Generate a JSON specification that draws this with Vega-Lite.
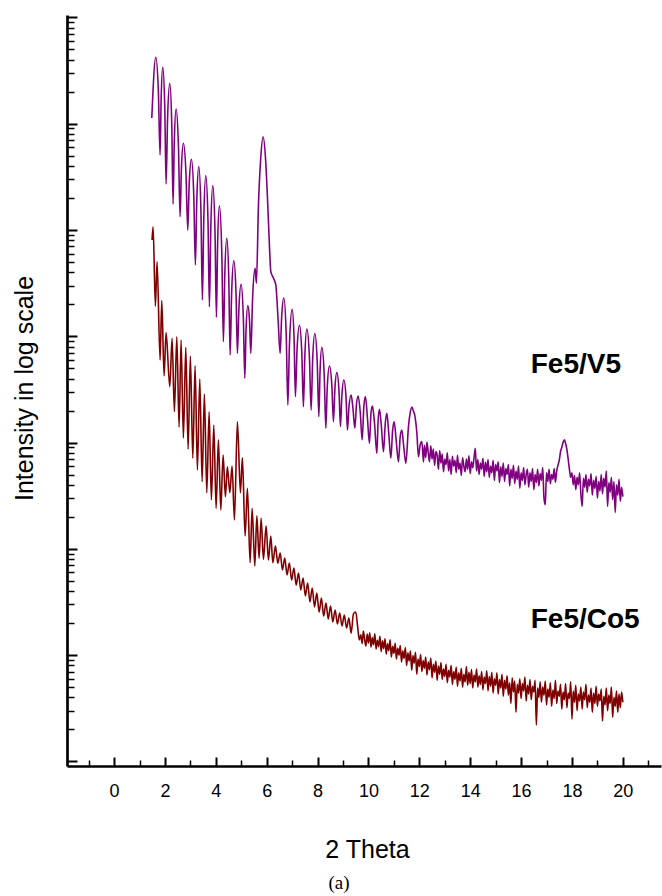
{
"$schema":"https://vega.github.io/schema/vega-lite/v6.json",
"width":594,"height":751,
"autosize":"none",
"padding":{"left":67,"top":15,"right":1,"bottom":130},
"config":{"view":{"stroke":null},"axis":{"grid":false}},
"title":{"text":"(a)","orient":"bottom","frame":"group","anchor":"middle","font":"Liberation Serif","fontSize":19,"fontWeight":"normal","color":"black","offset":12,"dx":-25},
"datasets":{
"fe5v5":[
{"theta":1.483,"intensity":1130000},{"theta":1.640,"intensity":4210000},{"theta":1.742,"intensity":2000000},{"theta":1.809,"intensity":507000},{"theta":1.852,"intensity":1740000},{"theta":1.915,"intensity":3390000},{"theta":1.994,"intensity":1400000},{"theta":2.045,"intensity":270000},{"theta":2.104,"intensity":1120000},{"theta":2.190,"intensity":2390000},{"theta":2.269,"intensity":959000},{"theta":2.320,"intensity":175000},{"theta":2.367,"intensity":667000},{"theta":2.438,"intensity":1370000},{"theta":2.532,"intensity":605000},{"theta":2.595,"intensity":133000},{"theta":2.647,"intensity":374000},{"theta":2.725,"intensity":653000},{"theta":2.827,"intensity":338000},{"theta":2.898,"intensity":99800},{"theta":2.953,"intensity":270000},{"theta":3.040,"intensity":461000},{"theta":3.134,"intensity":207000},{"theta":3.197,"intensity":46800},{"theta":3.252,"intensity":187000},{"theta":3.331,"intensity":394000},{"theta":3.417,"intensity":143000},{"theta":3.472,"intensity":21900},{"theta":3.527,"intensity":126000},{"theta":3.606,"intensity":324000},{"theta":3.693,"intensity":120000},{"theta":3.748,"intensity":18900},{"theta":3.803,"intensity":104000},{"theta":3.881,"intensity":261000},{"theta":3.968,"intensity":96200},{"theta":4.023,"intensity":15100},{"theta":4.070,"intensity":72600},{"theta":4.141,"intensity":169000},{"theta":4.235,"intensity":60300},{"theta":4.298,"intensity":8870},{"theta":4.353,"intensity":38000},{"theta":4.432,"intensity":83400},{"theta":4.510,"intensity":34400},{"theta":4.562,"intensity":6650},{"theta":4.621,"intensity":25100},{"theta":4.707,"intensity":51300},{"theta":4.794,"intensity":25400},{"theta":4.849,"intensity":6900},{"theta":4.908,"intensity":18200},{"theta":4.994,"intensity":30800},{"theta":5.081,"intensity":15100},{"theta":5.140,"intensity":4020},{"theta":5.187,"intensity":11200},{"theta":5.258,"intensity":19400},{"theta":5.328,"intensity":13500},{"theta":5.376,"intensity":6900},{"theta":5.446,"intensity":22900},{"theta":5.545,"intensity":43500},{"theta":5.596,"intensity":31500},{"theta":5.675,"intensity":168000},{"theta":5.761,"intensity":455000},{"theta":5.859,"intensity":753000},{"theta":5.958,"intensity":455000},{"theta":6.044,"intensity":168000},{"theta":6.115,"intensity":64700},{"theta":6.162,"intensity":40500},{"theta":6.264,"intensity":35300},{"theta":6.359,"intensity":30300},{"theta":6.449,"intensity":14200},{"theta":6.528,"intensity":6900},{"theta":6.587,"intensity":15000},{"theta":6.673,"intensity":22900},{"theta":6.768,"intensity":10200},{"theta":6.831,"intensity":2250},{"theta":6.897,"intensity":8670},{"theta":7.000,"intensity":17900},{"theta":7.078,"intensity":9230},{"theta":7.129,"intensity":2700},{"theta":7.192,"intensity":7400},{"theta":7.287,"intensity":12700},{"theta":7.381,"intensity":6860},{"theta":7.444,"intensity":2170},{"theta":7.499,"intensity":6490},{"theta":7.578,"intensity":11700},{"theta":7.680,"intensity":6320},{"theta":7.747,"intensity":2020},{"theta":7.806,"intensity":5960},{"theta":7.892,"intensity":10600},{"theta":7.987,"intensity":5660},{"theta":8.050,"intensity":1750},{"theta":8.097,"intensity":4650},{"theta":8.168,"intensity":7870},{"theta":8.262,"intensity":4260},{"theta":8.325,"intensity":1360},{"theta":8.380,"intensity":3270},{"theta":8.466,"intensity":5250},{"theta":8.561,"intensity":3440},{"theta":8.624,"intensity":1570},{"theta":8.679,"intensity":3130},{"theta":8.757,"intensity":4540},{"theta":8.844,"intensity":3010},{"theta":8.899,"intensity":1410},{"theta":8.954,"intensity":2720},{"theta":9.033,"intensity":3870},{"theta":9.119,"intensity":2650},{"theta":9.174,"intensity":1310},{"theta":9.233,"intensity":2150},{"theta":9.320,"intensity":2800},{"theta":9.39,"intensity":2100},{"theta":9.465,"intensity":1360},{"theta":9.53,"intensity":2300},{"theta":9.595,"intensity":2740},{"theta":9.68,"intensity":1900},{"theta":9.752,"intensity":1060},{"theta":9.82,"intensity":2200},{"theta":9.882,"intensity":2700},{"theta":9.96,"intensity":1700},{"theta":10.039,"intensity":982},{"theta":10.10,"intensity":1900},{"theta":10.157,"intensity":2200},{"theta":10.24,"intensity":1500},{"theta":10.330,"intensity":791},{"theta":10.38,"intensity":1600},{"theta":10.433,"intensity":2050},{"theta":10.51,"intensity":1400},{"theta":10.590,"intensity":819},{"theta":10.66,"intensity":1500},{"theta":10.724,"intensity":1880},{"theta":10.80,"intensity":1200},{"theta":10.881,"intensity":710},{"theta":10.95,"intensity":1300},{"theta":11.011,"intensity":1570},{"theta":11.09,"intensity":1050},{"theta":11.180,"intensity":659},{"theta":11.25,"intensity":1150},{"theta":11.313,"intensity":1310},{"theta":11.39,"intensity":900},{"theta":11.471,"intensity":637},{"theta":11.573,"intensity":1410},{"theta":11.64,"intensity":1900},{"theta":11.707,"intensity":2160},{"theta":11.76,"intensity":2000},{"theta":11.817,"intensity":1820},{"theta":11.903,"intensity":1230},{"theta":11.966,"intensity":735},{"theta":12.033,"intensity":947},{"theta":12.100,"intensity":1020},{"theta":12.163,"intensity":656},
{"theta":12.20,"intensity":940},{"theta":12.25,"intensity":720},{"theta":12.30,"intensity":1010},{"theta":12.35,"intensity":800},{"theta":12.40,"intensity":660},{"theta":12.45,"intensity":930},{"theta":12.50,"intensity":700},{"theta":12.55,"intensity":870},{"theta":12.60,"intensity":610},{"theta":12.65,"intensity":820},{"theta":12.70,"intensity":760},{"theta":12.75,"intensity":560},{"theta":12.80,"intensity":840},{"theta":12.85,"intensity":640},{"theta":12.90,"intensity":780},{"theta":12.95,"intensity":530},{"theta":13.00,"intensity":700},{"theta":13.05,"intensity":620},{"theta":13.10,"intensity":800},{"theta":13.15,"intensity":540},{"theta":13.20,"intensity":690},{"theta":13.25,"intensity":500},{"theta":13.30,"intensity":740},{"theta":13.35,"intensity":600},{"theta":13.40,"intensity":680},{"theta":13.45,"intensity":520},{"theta":13.50,"intensity":760},{"theta":13.55,"intensity":560},{"theta":13.60,"intensity":640},{"theta":13.65,"intensity":490},{"theta":13.70,"intensity":720},{"theta":13.75,"intensity":600},{"theta":13.80,"intensity":530},{"theta":13.85,"intensity":700},{"theta":13.90,"intensity":560},{"theta":13.95,"intensity":750},{"theta":14.00,"intensity":510},{"theta":14.05,"intensity":660},{"theta":14.10,"intensity":580},{"theta":14.15,"intensity":720},{"theta":14.20,"intensity":880},{"theta":14.25,"intensity":540},{"theta":14.30,"intensity":690},{"theta":14.35,"intensity":500},{"theta":14.40,"intensity":640},{"theta":14.45,"intensity":560},{"theta":14.50,"intensity":710},{"theta":14.55,"intensity":480},{"theta":14.60,"intensity":650},{"theta":14.65,"intensity":530},{"theta":14.70,"intensity":690},{"theta":14.75,"intensity":470},{"theta":14.80,"intensity":600},{"theta":14.85,"intensity":520},{"theta":14.90,"intensity":680},{"theta":14.95,"intensity":440},{"theta":15.00,"intensity":620},{"theta":15.05,"intensity":540},{"theta":15.10,"intensity":660},{"theta":15.15,"intensity":420},{"theta":15.20,"intensity":590},{"theta":15.25,"intensity":480},{"theta":15.30,"intensity":640},{"theta":15.35,"intensity":430},{"theta":15.40,"intensity":570},{"theta":15.45,"intensity":500},{"theta":15.50,"intensity":620},{"theta":15.55,"intensity":390},{"theta":15.60,"intensity":560},{"theta":15.65,"intensity":460},{"theta":15.70,"intensity":610},{"theta":15.75,"intensity":410},{"theta":15.80,"intensity":540},{"theta":15.85,"intensity":450},{"theta":15.90,"intensity":600},{"theta":15.95,"intensity":370},{"theta":16.00,"intensity":520},{"theta":16.05,"intensity":440},{"theta":16.10,"intensity":580},{"theta":16.15,"intensity":400},{"theta":16.20,"intensity":500},{"theta":16.25,"intensity":560},{"theta":16.30,"intensity":380},{"theta":16.35,"intensity":520},{"theta":16.40,"intensity":430},{"theta":16.45,"intensity":570},{"theta":16.50,"intensity":360},{"theta":16.55,"intensity":500},{"theta":16.60,"intensity":420},{"theta":16.65,"intensity":560},{"theta":16.70,"intensity":390},{"theta":16.75,"intensity":510},{"theta":16.80,"intensity":440},{"theta":16.85,"intensity":580},{"theta":16.90,"intensity":300},{"theta":16.95,"intensity":260},{"theta":17.00,"intensity":520},{"theta":17.05,"intensity":430},{"theta":17.10,"intensity":560},{"theta":17.15,"intensity":410},{"theta":17.20,"intensity":500},{"theta":17.25,"intensity":450},{"theta":17.30,"intensity":570},{"theta":17.35,"intensity":420},{"theta":17.40,"intensity":540},{"theta":17.45,"intensity":610},{"theta":17.50,"intensity":680},{"theta":17.55,"intensity":820},{"theta":17.60,"intensity":900},{"theta":17.65,"intensity":1000},{"theta":17.70,"intensity":1060},{"theta":17.75,"intensity":980},{"theta":17.80,"intensity":860},{"theta":17.85,"intensity":700},{"theta":17.90,"intensity":560},{"theta":17.95,"intensity":470},{"theta":18.00,"intensity":520},{"theta":18.05,"intensity":400},{"theta":18.10,"intensity":490},{"theta":18.15,"intensity":360},{"theta":18.20,"intensity":470},{"theta":18.25,"intensity":400},{"theta":18.30,"intensity":520},{"theta":18.35,"intensity":330},{"theta":18.40,"intensity":250},{"theta":18.45,"intensity":460},{"theta":18.50,"intensity":380},{"theta":18.55,"intensity":500},{"theta":18.60,"intensity":340},{"theta":18.65,"intensity":450},{"theta":18.70,"intensity":390},{"theta":18.75,"intensity":510},{"theta":18.80,"intensity":320},{"theta":18.85,"intensity":440},{"theta":18.90,"intensity":370},{"theta":18.95,"intensity":480},{"theta":19.00,"intensity":300},{"theta":19.05,"intensity":430},{"theta":19.10,"intensity":350},{"theta":19.15,"intensity":500},{"theta":19.20,"intensity":330},{"theta":19.25,"intensity":460},{"theta":19.30,"intensity":380},{"theta":19.35,"intensity":540},{"theta":19.40,"intensity":250},{"theta":19.45,"intensity":420},{"theta":19.50,"intensity":340},{"theta":19.55,"intensity":470},{"theta":19.60,"intensity":290},{"theta":19.65,"intensity":430},{"theta":19.70,"intensity":220},{"theta":19.75,"intensity":400},{"theta":19.80,"intensity":320},{"theta":19.85,"intensity":450},{"theta":19.90,"intensity":280},{"theta":19.95,"intensity":380},{"theta":20.00,"intensity":310}
],
"fe5co5":[
{"theta":1.494,"intensity":80400},{"theta":1.534,"intensity":107000},{"theta":1.624,"intensity":19200},{"theta":1.691,"intensity":50200},{"theta":1.809,"intensity":5970},{"theta":1.876,"intensity":21600},{"theta":1.966,"intensity":4230},{"theta":2.045,"intensity":10800},{"theta":2.190,"intensity":3350},{"theta":2.281,"intensity":9550},{"theta":2.371,"intensity":1950},{"theta":2.466,"intensity":9890},{"theta":2.556,"intensity":1390},{"theta":2.635,"intensity":9200},{"theta":2.725,"intensity":1100},{"theta":2.820,"intensity":7870},{"theta":2.910,"intensity":863},{"theta":3.000,"intensity":6520},{"theta":3.095,"intensity":710},{"theta":3.185,"intensity":5280},{"theta":3.276,"intensity":551},{"theta":3.370,"intensity":3960},{"theta":3.461,"intensity":428},{"theta":3.551,"intensity":2860},{"theta":3.645,"intensity":337},{"theta":3.736,"intensity":1950},{"theta":3.826,"intensity":288},{"theta":3.921,"intensity":1460},{"theta":4.011,"intensity":240},{"theta":4.101,"intensity":1060},{"theta":4.196,"intensity":232},{"theta":4.286,"intensity":763},{"theta":4.377,"intensity":309},{"theta":4.455,"intensity":592},{"theta":4.550,"intensity":337},{"theta":4.640,"intensity":601},{"theta":4.731,"intensity":187},{"theta":4.849,"intensity":1570},{"theta":4.967,"intensity":337},{"theta":5.045,"intensity":719},{"theta":5.151,"intensity":132},{"theta":5.242,"intensity":371},{"theta":5.348,"intensity":74.0},{"theta":5.427,"intensity":240},{"theta":5.533,"intensity":68.9},{"theta":5.612,"intensity":204},{"theta":5.702,"intensity":81.5},{"theta":5.781,"intensity":194},{"theta":5.871,"intensity":79.7},{"theta":5.977,"intensity":164},{"theta":6.068,"intensity":78.5},{"theta":6.162,"intensity":132},{"theta":6.241,"intensity":74.0},{"theta":6.343,"intensity":106},{"theta":6.437,"intensity":73.1},
{"theta":6.53,"intensity":91.3},{"theta":6.62,"intensity":63.2},{"theta":6.71,"intensity":81.9},{"theta":6.80,"intensity":56.7},{"theta":6.89,"intensity":73.5},{"theta":6.98,"intensity":50.8},{"theta":7.07,"intensity":65.9},{"theta":7.16,"intensity":45.6},{"theta":7.25,"intensity":59.2},{"theta":7.34,"intensity":41.0},{"theta":7.43,"intensity":53.1},{"theta":7.52,"intensity":36.0},{"theta":7.61,"intensity":47.7},{"theta":7.70,"intensity":31.6},{"theta":7.79,"intensity":42.8},{"theta":7.88,"intensity":28.4},{"theta":7.97,"intensity":38.4},{"theta":8.06,"intensity":25.4},{"theta":8.15,"intensity":34.4},{"theta":8.24,"intensity":23.3},{"theta":8.33,"intensity":30.9},{"theta":8.42,"intensity":21.9},{"theta":8.51,"intensity":29.0},{"theta":8.60,"intensity":20.5},{"theta":8.69,"intensity":26.6},{"theta":8.78,"intensity":19.6},{"theta":8.87,"intensity":24.9},{"theta":8.96,"intensity":18.8},{"theta":9.05,"intensity":23.8},{"theta":9.14,"intensity":18.0},{"theta":9.23,"intensity":22.3},{"theta":9.32,"intensity":16.1},{"theta":9.41,"intensity":24.4},{"theta":9.50,"intensity":25.4},{"theta":9.58,"intensity":18.0},{"theta":9.64,"intensity":13.9},
{"theta":9.70,"intensity":15.5},{"theta":9.75,"intensity":12.8},{"theta":9.80,"intensity":16.8},{"theta":9.85,"intensity":14.0},{"theta":9.90,"intensity":12.2},{"theta":9.95,"intensity":15.8},{"theta":10.00,"intensity":13.0},{"theta":10.05,"intensity":16.2},{"theta":10.10,"intensity":11.9},{"theta":10.15,"intensity":14.6},{"theta":10.20,"intensity":12.5},{"theta":10.25,"intensity":15.9},{"theta":10.30,"intensity":11.4},{"theta":10.35,"intensity":13.8},{"theta":10.40,"intensity":12.0},{"theta":10.45,"intensity":15.0},{"theta":10.50,"intensity":10.8},{"theta":10.55,"intensity":13.6},{"theta":10.60,"intensity":11.5},{"theta":10.65,"intensity":14.2},{"theta":10.70,"intensity":10.2},{"theta":10.75,"intensity":12.8},{"theta":10.80,"intensity":11.0},{"theta":10.85,"intensity":13.9},{"theta":10.90,"intensity":9.6},{"theta":10.95,"intensity":12.1},{"theta":11.00,"intensity":10.4},{"theta":11.05,"intensity":12.9},{"theta":11.10,"intensity":9.2},{"theta":11.15,"intensity":11.6},{"theta":11.20,"intensity":10.0},{"theta":11.25,"intensity":12.3},{"theta":11.30,"intensity":8.6},{"theta":11.35,"intensity":11.0},{"theta":11.40,"intensity":9.3},{"theta":11.45,"intensity":11.8},{"theta":11.50,"intensity":8.0},{"theta":11.55,"intensity":10.5},{"theta":11.60,"intensity":8.8},{"theta":11.65,"intensity":10.9},{"theta":11.70,"intensity":7.2},{"theta":11.75,"intensity":9.9},{"theta":11.80,"intensity":8.4},{"theta":11.85,"intensity":10.6},{"theta":11.90,"intensity":6.6},{"theta":11.95,"intensity":9.2},{"theta":12.00,"intensity":7.8},{"theta":12.05,"intensity":10.1},{"theta":12.10,"intensity":7.0},{"theta":12.15,"intensity":8.9},{"theta":12.20,"intensity":7.5},{"theta":12.25,"intensity":9.6},{"theta":12.30,"intensity":6.5},{"theta":12.35,"intensity":8.6},{"theta":12.40,"intensity":7.3},{"theta":12.45,"intensity":9.4},{"theta":12.50,"intensity":6.1},{"theta":12.55,"intensity":8.2},{"theta":12.60,"intensity":6.9},{"theta":12.65,"intensity":8.8},{"theta":12.70,"intensity":5.8},{"theta":12.75,"intensity":7.9},{"theta":12.80,"intensity":6.6},{"theta":12.85,"intensity":8.5},{"theta":12.90,"intensity":5.9},{"theta":12.95,"intensity":7.4},{"theta":13.00,"intensity":6.3},{"theta":13.05,"intensity":8.2},{"theta":13.10,"intensity":5.5},{"theta":13.15,"intensity":7.2},{"theta":13.20,"intensity":6.2},{"theta":13.25,"intensity":8.0},{"theta":13.30,"intensity":5.3},{"theta":13.35,"intensity":7.0},{"theta":13.40,"intensity":5.9},{"theta":13.45,"intensity":7.7},{"theta":13.50,"intensity":5.1},{"theta":13.55,"intensity":6.8},{"theta":13.60,"intensity":5.7},{"theta":13.65,"intensity":7.5},{"theta":13.70,"intensity":5.0},{"theta":13.75,"intensity":6.6},{"theta":13.80,"intensity":5.6},{"theta":13.85,"intensity":7.8},{"theta":13.90,"intensity":5.2},{"theta":13.95,"intensity":6.9},{"theta":14.00,"intensity":5.4},{"theta":14.05,"intensity":7.3},{"theta":14.10,"intensity":4.9},{"theta":14.15,"intensity":6.5},{"theta":14.20,"intensity":5.6},{"theta":14.25,"intensity":7.4},{"theta":14.30,"intensity":5.0},{"theta":14.35,"intensity":6.4},{"theta":14.40,"intensity":5.3},{"theta":14.45,"intensity":7.0},{"theta":14.50,"intensity":4.7},{"theta":14.55,"intensity":6.2},{"theta":14.60,"intensity":5.4},{"theta":14.65,"intensity":7.1},{"theta":14.70,"intensity":4.6},{"theta":14.75,"intensity":6.3},{"theta":14.80,"intensity":5.1},{"theta":14.85,"intensity":6.9},{"theta":14.90,"intensity":4.4},{"theta":14.95,"intensity":6.0},{"theta":15.00,"intensity":5.2},{"theta":15.05,"intensity":6.8},{"theta":15.10,"intensity":4.3},{"theta":15.15,"intensity":5.9},{"theta":15.20,"intensity":4.9},{"theta":15.25,"intensity":6.6},{"theta":15.30,"intensity":4.1},{"theta":15.35,"intensity":5.8},{"theta":15.40,"intensity":4.8},{"theta":15.45,"intensity":6.4},{"theta":15.50,"intensity":4.2},{"theta":15.55,"intensity":5.5},{"theta":15.60,"intensity":3.5},{"theta":15.65,"intensity":6.1},{"theta":15.70,"intensity":4.5},{"theta":15.75,"intensity":5.7},{"theta":15.80,"intensity":2.9},{"theta":15.85,"intensity":5.3},{"theta":15.90,"intensity":4.4},{"theta":15.95,"intensity":6.0},{"theta":16.00,"intensity":3.9},{"theta":16.05,"intensity":5.4},{"theta":16.10,"intensity":4.6},{"theta":16.15,"intensity":6.2},{"theta":16.20,"intensity":3.7},{"theta":16.25,"intensity":5.2},{"theta":16.30,"intensity":4.3},{"theta":16.35,"intensity":5.9},{"theta":16.40,"intensity":3.8},{"theta":16.45,"intensity":5.1},{"theta":16.50,"intensity":4.5},{"theta":16.55,"intensity":5.8},{"theta":16.60,"intensity":2.2},{"theta":16.65,"intensity":4.9},{"theta":16.70,"intensity":4.0},{"theta":16.75,"intensity":5.6},{"theta":16.80,"intensity":3.6},{"theta":16.85,"intensity":5.0},{"theta":16.90,"intensity":4.2},{"theta":16.95,"intensity":5.7},{"theta":17.00,"intensity":3.4},{"theta":17.05,"intensity":4.8},{"theta":17.10,"intensity":4.0},{"theta":17.15,"intensity":5.5},{"theta":17.20,"intensity":3.3},{"theta":17.25,"intensity":4.7},{"theta":17.30,"intensity":3.9},{"theta":17.35,"intensity":5.8},{"theta":17.40,"intensity":3.5},{"theta":17.45,"intensity":4.6},{"theta":17.50,"intensity":4.1},{"theta":17.55,"intensity":5.3},{"theta":17.60,"intensity":3.1},{"theta":17.65,"intensity":4.5},{"theta":17.70,"intensity":3.8},{"theta":17.75,"intensity":5.4},{"theta":17.80,"intensity":3.2},{"theta":17.85,"intensity":4.4},{"theta":17.90,"intensity":3.9},{"theta":17.95,"intensity":5.6},{"theta":18.00,"intensity":2.5},{"theta":18.05,"intensity":4.6},{"theta":18.10,"intensity":3.6},{"theta":18.15,"intensity":5.2},{"theta":18.20,"intensity":3.0},{"theta":18.25,"intensity":4.3},{"theta":18.30,"intensity":3.7},{"theta":18.35,"intensity":5.0},{"theta":18.40,"intensity":3.1},{"theta":18.45,"intensity":4.5},{"theta":18.50,"intensity":3.8},{"theta":18.55,"intensity":5.3},{"theta":18.60,"intensity":3.2},{"theta":18.65,"intensity":4.2},{"theta":18.70,"intensity":3.6},{"theta":18.75,"intensity":4.9},{"theta":18.80,"intensity":2.9},{"theta":18.85,"intensity":4.4},{"theta":18.90,"intensity":3.5},{"theta":18.95,"intensity":5.1},{"theta":19.00,"intensity":3.3},{"theta":19.05,"intensity":4.3},{"theta":19.10,"intensity":3.7},{"theta":19.15,"intensity":4.8},{"theta":19.20,"intensity":2.4},{"theta":19.25,"intensity":4.1},{"theta":19.30,"intensity":3.4},{"theta":19.35,"intensity":4.9},{"theta":19.40,"intensity":3.0},{"theta":19.45,"intensity":4.2},{"theta":19.50,"intensity":3.5},{"theta":19.55,"intensity":5.0},{"theta":19.60,"intensity":2.6},{"theta":19.65,"intensity":4.0},{"theta":19.70,"intensity":3.3},{"theta":19.75,"intensity":4.6},{"theta":19.80,"intensity":2.9},{"theta":19.85,"intensity":4.3},{"theta":19.90,"intensity":3.2},{"theta":19.95,"intensity":4.5},{"theta":20.00,"intensity":3.6}
],
"labels":[
{"label":"Fe5/V5","theta":16.38,"intensity":4480},
{"label":"Fe5/Co5","theta":16.38,"intensity":17.8}
]
},
"layer":[
{"data":{"name":"fe5v5"},
 "mark":{"type":"line","color":"#800080","strokeWidth":1.6,"interpolate":"monotone"},
 "encoding":{
  "x":{"field":"theta","type":"quantitative","scale":{"domain":[-1.85,21.5],"nice":false,"zero":false},
   "axis":{"orient":"bottom","values":[0,2,4,6,8,10,12,14,16,18,20],"ticks":false,"domain":true,"domainColor":"black","domainWidth":2.5,"labels":true,"labelFont":"Liberation Sans","labelFontSize":18,"labelColor":"black","labelPadding":16,"labelFlush":false,"title":"2 Theta","titleFont":"Liberation Sans","titleFontSize":25,"titleFontWeight":"normal","titleColor":"black","titleX":300,"titleY":91,"titleBaseline":"alphabetic","titleAlign":"center","grid":false}},
  "y":{"field":"intensity","type":"quantitative","scale":{"type":"log","domain":[0.905,10520000],"nice":false},
   "axis":{"orient":"left","values":[1],"ticks":false,"labels":false,"domain":true,"domainColor":"black","domainWidth":2.7,"title":"Intensity in log scale","titleFont":"Liberation Sans","titleFontSize":25,"titleFontWeight":"normal","titleColor":"black","titleX":-35,"titleY":373,"titleAngle":270,"titleBaseline":"alphabetic","titleAlign":"center","grid":false}}
 }},
{"data":{"name":"fe5co5"},
 "mark":{"type":"line","color":"#800000","strokeWidth":1.6,"interpolate":"monotone"},
 "encoding":{
  "x":{"field":"theta","type":"quantitative","scale":{"domain":[-1.85,21.5],"nice":false,"zero":false},
   "axis":{"orient":"bottom","values":[0,2,4,6,8,10,12,14,16,18,20],"ticks":true,"tickSize":-9,"tickWidth":2,"tickColor":"black","labels":false,"domain":false,"title":null,"grid":false}},
  "y":{"field":"intensity","type":"quantitative","scale":{"type":"log","domain":[0.905,10520000],"nice":false},
   "axis":{"orient":"left","values":[1,10,100,1000,10000,100000,1000000,10000000],"ticks":true,"tickSize":-10,"tickWidth":2,"tickColor":"black","labels":false,"domain":false,"title":null,"grid":false}}
 }},
{"data":{"name":"labels"},
 "mark":{"type":"text","align":"left","baseline":"alphabetic","font":"Liberation Sans","fontSize":28,"fontWeight":"bold","color":"black"},
 "encoding":{
  "x":{"field":"theta","type":"quantitative","scale":{"domain":[-1.85,21.5],"nice":false,"zero":false},
   "axis":{"orient":"bottom","values":[-1,1,3,5,7,9,11,13,15,17,19,21],"ticks":true,"tickSize":-6,"tickWidth":1.5,"tickColor":"black","labels":false,"domain":false,"title":null,"grid":false}},
  "y":{"field":"intensity","type":"quantitative","scale":{"type":"log","domain":[0.905,10520000],"nice":false},
   "axis":{"orient":"left","values":[2,3,4,5,6,7,8,9,20,30,40,50,60,70,80,90,200,300,400,500,600,700,800,900,2000,3000,4000,5000,6000,7000,8000,9000,20000,30000,40000,50000,60000,70000,80000,90000,200000,300000,400000,500000,600000,700000,800000,900000,2000000,3000000,4000000,5000000,6000000,7000000,8000000,9000000],"ticks":true,"tickSize":-7,"tickWidth":1.5,"tickColor":"black","labels":false,"domain":false,"title":null,"grid":false}},
  "text":{"field":"label","type":"nominal"}
 }}
],
"resolve":{"axis":{"x":"independent","y":"independent"}}
}
